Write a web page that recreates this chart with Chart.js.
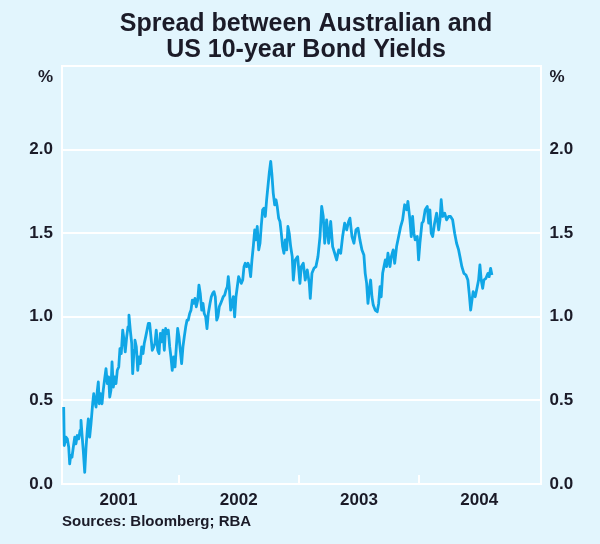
<!DOCTYPE html>
<html>
<head>
<meta charset="utf-8">
<script src="https://cdn.jsdelivr.net/npm/chart.js@4.4.1/dist/chart.umd.min.js"></script>
<style>
html,body{margin:0;padding:0;background:#E2F5FD;}
#wrap{width:600px;height:544px;position:relative;}
</style>
</head>
<body>
<div id="wrap"><canvas id="c" width="600" height="544"></canvas></div>
<script>
const titleLines = ['Spread between Australian and', 'US 10-year Bond Yields'];
const sourceText = 'Sources: Bloomberg; RBA';
const unitLabel = '%';
const yearLabels = [2001, 2002, 2003, 2004];
const yearBoundaries = [2002, 2003, 2004];
const yTicks = [0, 0.5, 1.0, 1.5, 2.0, 2.5];

// dates as decimal years, spread in percentage points
const dates = [
2001.044,2001.049,2001.063,2001.074,2001.086,2001.094,2001.102,2001.113,2001.124,2001.136,
2001.146,2001.157,2001.169,2001.180,2001.188,2001.196,2001.207,2001.219,2001.230,2001.240,
2001.249,2001.260,2001.271,2001.285,2001.294,2001.302,2001.313,2001.324,2001.332,2001.340,
2001.352,2001.363,2001.373,2001.385,2001.396,2001.407,2001.418,2001.427,2001.437,2001.446,
2001.457,2001.468,2001.479,2001.490,2001.502,2001.512,2001.523,2001.535,2001.546,2001.556,
2001.568,2001.579,2001.587,2001.598,2001.610,2001.618,2001.629,
2001.637,2001.648,2001.660,2001.670,2001.681,2001.693,2001.704,2001.714,2001.726,2001.737,
2001.748,2001.759,2001.770,2001.781,2001.793,2001.803,2001.814,2001.826,2001.837,2001.848,
2001.859,2001.870,2001.881,2001.892,2001.903,2001.914,2001.926,2001.936,2001.947,2001.959,
2001.970,2001.981,2001.992,2002.003,2002.014,2002.025,2002.036,2002.047,2002.059,2002.070,
2002.080,2002.092,2002.103,2002.114,2002.125,2002.136,2002.147,2002.159,2002.169,2002.180,
2002.192,2002.203,2002.213,2002.225,2002.236,2002.247,
2002.261,2002.272,2002.283,2002.294,2002.305,2002.317,2002.327,2002.338,2002.350,2002.361,
2002.371,2002.383,2002.394,2002.405,2002.413,2002.421,2002.433,2002.444,2002.455,2002.466,
2002.477,2002.488,2002.499,2002.510,2002.521,2002.533,2002.544,2002.554,2002.566,2002.577,
2002.588,2002.599,2002.610,2002.621,2002.633,2002.643,2002.654,2002.666,2002.677,2002.687,
2002.699,2002.710,2002.721,2002.732,2002.743,2002.754,2002.766,2002.776,2002.787,2002.799,
2002.810,2002.820,2002.832,2002.843,2002.854,2002.865,2002.876,2002.887,2002.899,2002.909,
2002.920,
2002.932,2002.945,2002.954,2002.970,2002.990,2003.009,2003.020,2003.037,2003.053,2003.070,
2003.087,2003.095,2003.109,2003.126,2003.142,2003.159,2003.176,2003.190,2003.203,2003.215,
2003.231,2003.248,2003.265,2003.281,2003.298,2003.314,2003.331,2003.348,2003.364,2003.381,
2003.398,2003.414,2003.425,2003.442,2003.458,2003.475,2003.492,2003.508,2003.525,2003.541,
2003.552,2003.564,2003.575,2003.586,2003.597,2003.608,2003.619,2003.635,2003.652,2003.664,
2003.675,2003.685,2003.697,2003.708,2003.719,2003.730,2003.741,2003.758,2003.769,2003.785,
2003.797,2003.813,2003.830,2003.847,2003.863,2003.880,2003.897,2003.907,2003.924,2003.935,
2003.946,2003.957,2003.968,2003.985,2003.996,2004.007,2004.024,2004.035,2004.051,2004.068,
2004.080,2004.090,2004.101,2004.113,2004.129,2004.146,2004.163,2004.174,2004.184,2004.196,
2004.213,2004.229,2004.246,2004.262,2004.279,2004.296,2004.312,2004.329,2004.340,2004.356,
2004.373,2004.390,2004.406,2004.417,2004.429,2004.440,2004.450,2004.467,2004.484,2004.495,
2004.506,2004.517,2004.529,2004.539,2004.556,2004.573,2004.583,2004.595,2004.606
];
const spread = [
0.46,0.23,0.28,0.27,0.22,0.12,0.17,0.16,0.22,0.28,
0.24,0.29,0.27,0.32,0.38,0.30,0.20,0.07,0.22,0.32,
0.39,0.28,0.36,0.48,0.54,0.50,0.46,0.56,0.61,0.48,
0.54,0.48,0.56,0.63,0.69,0.60,0.64,0.52,0.56,0.73,
0.58,0.64,0.60,0.68,0.70,0.81,0.78,0.92,0.86,0.79,
0.88,0.94,1.01,0.92,0.84,0.66,0.80,
0.86,0.82,0.68,0.76,0.72,0.82,0.78,0.84,0.88,0.92,
0.96,0.96,0.88,0.80,0.82,0.84,0.92,0.80,0.78,0.90,
0.85,0.92,0.80,0.93,0.90,0.92,0.82,0.76,0.68,0.76,
0.70,0.82,0.93,0.88,0.80,0.72,0.82,0.88,0.94,0.98,
0.98,1.02,1.04,1.10,1.08,1.11,1.06,1.10,1.19,1.14,
1.04,1.08,1.02,1.00,0.93,1.02,
1.08,1.12,1.14,1.15,1.12,0.98,1.00,1.06,1.08,1.10,
1.12,1.13,1.16,1.18,1.24,1.18,1.04,1.08,1.12,1.00,
1.12,1.18,1.24,1.22,1.20,1.22,1.30,1.32,1.30,1.32,
1.30,1.24,1.34,1.42,1.52,1.46,1.54,1.40,1.44,1.54,
1.64,1.65,1.60,1.70,1.78,1.86,1.93,1.85,1.74,1.67,
1.70,1.66,1.59,1.57,1.50,1.42,1.38,1.46,1.40,1.54,
1.50,
1.42,1.36,1.22,1.34,1.36,1.20,1.30,1.32,1.22,1.28,
1.20,1.11,1.26,1.29,1.30,1.36,1.48,1.66,1.60,1.44,
1.58,1.44,1.57,1.42,1.38,1.34,1.40,1.38,1.48,1.56,
1.52,1.57,1.59,1.48,1.44,1.52,1.53,1.46,1.40,1.37,
1.26,1.20,1.08,1.16,1.22,1.12,1.07,1.04,1.03,1.08,
1.18,1.12,1.26,1.30,1.34,1.30,1.38,1.30,1.36,1.40,
1.32,1.42,1.48,1.54,1.58,1.67,1.64,1.69,1.58,1.48,
1.60,1.50,1.46,1.48,1.34,1.44,1.56,1.57,1.64,1.66,
1.56,1.64,1.50,1.48,1.56,1.62,1.52,1.58,1.70,1.60,
1.62,1.58,1.60,1.60,1.58,1.50,1.44,1.40,1.36,1.30,
1.26,1.25,1.22,1.14,1.04,1.10,1.15,1.12,1.18,1.22,
1.31,1.22,1.17,1.22,1.23,1.26,1.24,1.29,1.25
];

const FONT = "'Liberation Sans', Arial, Helvetica, sans-serif";
const TEXT = '#1b1b28';
const LINE = '#10A6E6';
const GRID = '#ffffff';

const points = dates.map((d, i) => ({ x: d, y: spread[i] }));

const decor = {
  id: 'decor',
  beforeDatasetsDraw(chart) {
    const { ctx, chartArea } = chart;
    const x = chart.scales.x;
    ctx.save();
    ctx.strokeStyle = GRID;
    ctx.lineWidth = 2;
    yearBoundaries.forEach(v => {
      const px = Math.round(x.getPixelForValue(v));
      ctx.beginPath();
      ctx.moveTo(px, chartArea.bottom);
      ctx.lineTo(px, chartArea.bottom - 9);
      ctx.stroke();
    });
    ctx.restore();
  },
  afterDraw(chart) {
    const { ctx } = chart;
    const yl = chart.scales.y, yr = chart.scales.y2;
    const top = yl.getPixelForValue(yTicks[yTicks.length - 1]);
    ctx.save();
    ctx.fillStyle = TEXT;
    ctx.font = "bold 17px " + FONT;
    ctx.textBaseline = 'middle';
    ctx.textAlign = 'right';
    ctx.fillText(unitLabel, yl.right - 9, top + 11);
    ctx.textAlign = 'left';
    ctx.fillText(unitLabel, yr.left + 9, top + 11);
    ctx.restore();
  }
};

const tickFont = { family: FONT, size: 17, weight: 'bold' };
const yTickCb = v => (v === yTicks[yTicks.length - 1] ? '' : v.toFixed(1));

new Chart(document.getElementById('c').getContext('2d'), {
  type: 'line',
  data: {
    datasets: [{
      data: points,
      borderColor: LINE,
      borderWidth: 2.8,
      pointRadius: 0,
      tension: 0,
      borderJoinStyle: 'round',
      yAxisID: 'y'
    }]
  },
  options: {
    responsive: false,
    animation: false,
    devicePixelRatio: 1,
    layout: { padding: { left: 12, right: 0, top: 0, bottom: 0 } },
    plugins: {
      legend: { display: false },
      tooltip: { enabled: false },
      title: {
        display: true,
        text: titleLines,
        color: TEXT,
        font: { family: FONT, size: 25, weight: 'bold', lineHeight: '26px' },
        padding: { top: 11, bottom: 3 }
      },
      subtitle: {
        display: true,
        text: sourceText,
        position: 'bottom',
        align: 'start',
        fullSize: false,
        color: TEXT,
        font: { family: FONT, size: 15, weight: 'bold', lineHeight: 1.2 },
        padding: { top: 5, bottom: 13 }
      }
    },
    scales: {
      x: {
        type: 'linear',
        min: 2001.03,
        max: 2005.01,
        afterBuildTicks: s => { s.ticks = yearLabels.map(y => ({ value: y + 0.5 })); },
        ticks: {
          callback: v => String(Math.floor(v)),
          color: TEXT, font: tickFont, padding: 6,
          autoSkip: false, maxRotation: 0, minRotation: 0
        },
        grid: { display: false, drawTicks: false },
        border: { display: false },
        afterFit: s => { s.height = 24; }
      },
      y: {
        position: 'left',
        min: 0, max: 2.5,
        afterBuildTicks: s => { s.ticks = yTicks.map(v => ({ value: v })); },
        ticks: { callback: yTickCb, color: TEXT, font: tickFont, padding: 9 },
        grid: { color: GRID, lineWidth: 2, drawTicks: false },
        border: { display: true, color: GRID, width: 2 },
        afterFit: s => { s.width = 50; }
      },
      y2: {
        position: 'right',
        min: 0, max: 2.5,
        afterBuildTicks: s => { s.ticks = yTicks.map(v => ({ value: v })); },
        ticks: { callback: yTickCb, color: TEXT, font: tickFont, padding: 9 },
        grid: { display: false, drawTicks: false },
        border: { display: true, color: GRID, width: 2 },
        afterFit: s => { s.width = 59.5; }
      }
    }
  },
  plugins: [decor]
});
</script>
</body>
</html>
